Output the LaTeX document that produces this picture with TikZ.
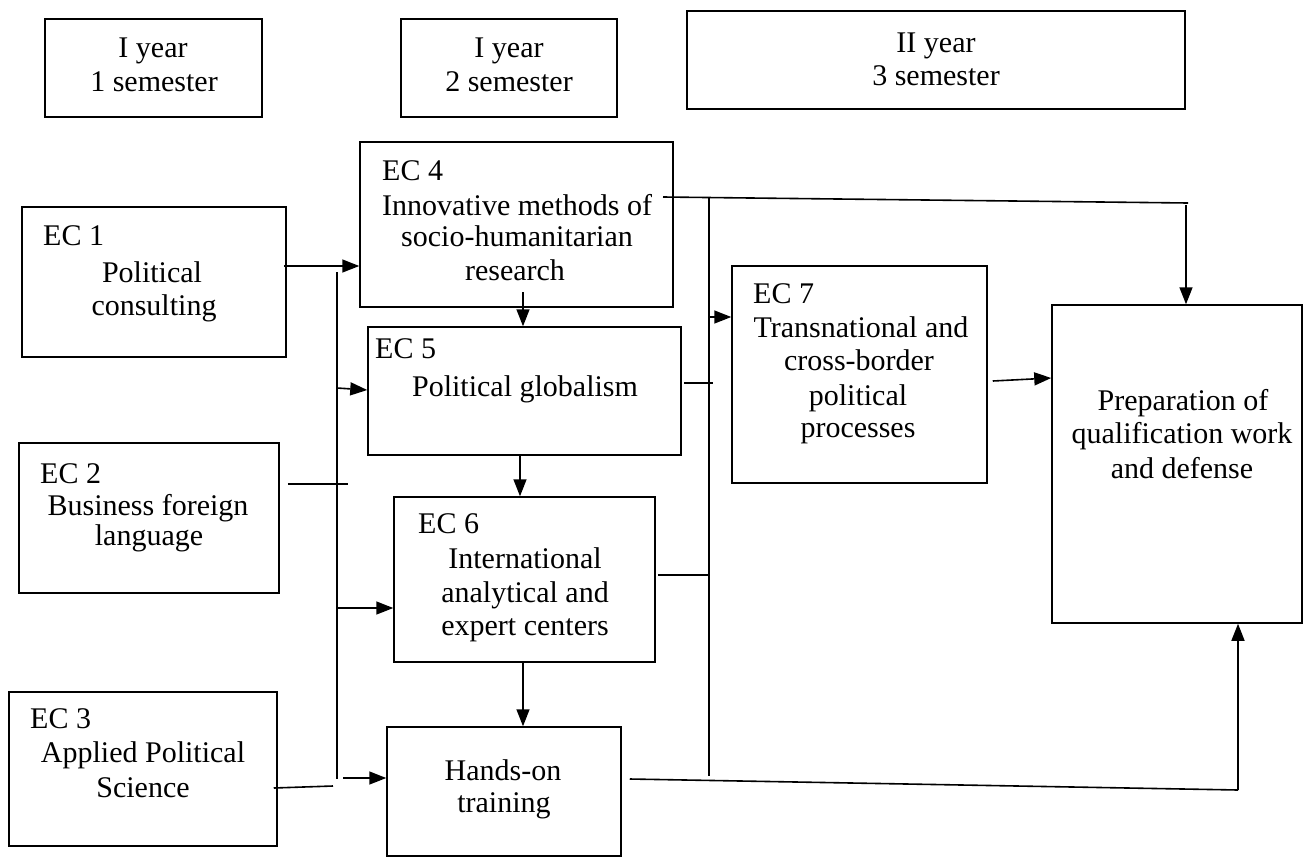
\documentclass[tikz,border=0pt]{standalone}
\usepackage{fontspec}
\setmainfont{Liberation Serif}
\usetikzlibrary{arrows.meta}
\begin{document}
\begin{tikzpicture}[x=1pt,y=-1pt,
  box/.style={draw, line width=1.5pt, inner sep=0pt},
  ln/.style={line width=1.6pt},
  arr/.style={ln, -{Triangle[length=17pt,width=13pt]}},
  txt/.style={anchor=base, inner sep=0pt, font=\fontsize{30}{33}\selectfont},
  lab/.style={txt, anchor=base west}]
\useasboundingbox (0,0) rectangle (1304,857);

% header boxes
\node[box, minimum width=217pt, minimum height=98pt] (hb1) at (153.5,68) {};
\node[box, minimum width=216pt, minimum height=98pt] (hb2) at (509,68) {};
\node[box, minimum width=498pt, minimum height=98pt] (hb3) at (936,60) {};
\node[txt] (hb1a) at (153,57) {I year};
\node[txt] (hb1b) at (154,91) {1 semester};
\node[txt] (hb2a) at (509,57) {I year};
\node[txt] (hb2b) at (509,91) {2 semester};
\node[txt] (hb3a) at (936,52) {II year};
\node[txt] (hb3b) at (936,85) {3 semester};

% course boxes
\node[box, minimum width=264pt, minimum height=150pt] (ec1) at (154,282) {};
\node[box, minimum width=260pt, minimum height=150pt] (ec2) at (149,518) {};
\node[box, minimum width=268pt, minimum height=154pt] (ec3) at (143,769) {};
\node[box, minimum width=313pt, minimum height=165pt] (ec4) at (516.5,224.5) {};
\node[box, minimum width=313pt, minimum height=128pt] (ec5) at (524.5,391) {};
\node[box, minimum width=261pt, minimum height=165pt] (ec6) at (524.5,579.5) {};
\node[box, minimum width=234pt, minimum height=129pt] (hands) at (504,791.5) {};
\node[box, minimum width=255pt, minimum height=217pt] (ec7) at (859.5,374.5) {};
\node[box, minimum width=250pt, minimum height=318pt] (prep) at (1177,464) {};

% texts
\node[lab] (l1) at (43,245) {EC 1};
\node[txt] (t1a) at (152,282) {Political};
\node[txt] (t1b) at (154,315) {consulting};
\node[lab] (l2) at (40,483) {EC 2};
\node[txt] (t2a) at (148,515) {Business foreign};
\node[txt] (t2b) at (149,545) {language};
\node[lab] (l3) at (30,728) {EC 3};
\node[txt] (t3a) at (143,762) {Applied Political};
\node[txt] (t3b) at (143,797) {Science};
\node[lab] (l4) at (382,180) {EC 4};
\node[txt] (t4a) at (517,215) {Innovative methods of};
\node[txt] (t4b) at (517,246) {socio-humanitarian};
\node[txt] (t4c) at (515,280) {research};
\node[lab] (l5) at (375,358) {EC 5};
\node[txt] (t5a) at (525,396) {Political globalism};
\node[lab] (l6) at (418,533) {EC 6};
\node[txt] (t6a) at (525,568) {International};
\node[txt] (t6b) at (525,602) {analytical and};
\node[txt] (t6c) at (525,635) {expert centers};
\node[txt] (tha) at (503,780) {Hands-on};
\node[txt] (thb) at (504,812) {training};
\node[lab] (l7) at (753,303) {EC 7};
\node[txt] (t7a) at (861,337) {Transnational and};
\node[txt] (t7b) at (859,370) {cross-border};
\node[txt] (t7c) at (858,405) {political};
\node[txt] (t7d) at (858,437) {processes};
\node[txt] (tpa) at (1183,410) {Preparation of};
\node[txt] (tpb) at (1182,443) {qualification work};
\node[txt] (tpc) at (1182,478) {and defense};

% left bus
\coordinate (b1t) at (337,272);
\coordinate (b1b) at (337,779);
\draw[ln] (b1t) -- (b1b);
\draw[arr] ([xshift=-3pt]ec1.east |- 0,266) -- (ec4.west |- 0,266);
\coordinate (b1e5) at (337,388);
\draw[arr] (b1e5) -- (ec5.west |- 0,390);
\coordinate (e2end) at (348,484);
\draw[ln] ([xshift=8pt]ec2.east |- 0,484) -- (e2end);
\coordinate (b1e6) at (337,608);
\draw[arr] (b1e6) -- (ec6.west |- b1e6);
\coordinate (e3end) at (333,786);
\draw[ln] ([xshift=-4pt]ec3.east |- 0,788) -- (e3end);
\coordinate (hstart) at (343,778);
\draw[arr] (hstart) -- (hands.west |- hstart);

% vertical chain
\coordinate (c45) at (523,292);
\draw[arr] (c45) -- (ec5.north -| c45);
\coordinate (c56) at (520,0);
\draw[arr] (ec5.south -| c56) -- (ec6.north -| c56);
\coordinate (c6h) at (523,0);
\draw[arr] (ec6.south -| c6h) -- (hands.north -| c6h);

% right bus and top line
\coordinate (t0) at (663,197);
\coordinate (t1) at (1188,203);
\draw[ln] (t0) -- (t1);
\coordinate (tp) at (1186,205);
\draw[arr] (tp) -- (prep.north -| tp);
\coordinate (b2t) at (709,197);
\coordinate (b2b) at (709,776);
\draw[ln] (b2t) -- (b2b);
\coordinate (e5end) at (713,383);
\draw[ln] ([xshift=2pt]ec5.east |- e5end) -- (e5end);
\coordinate (b2e7) at (709,317);
\draw[arr] (b2e7) -- (ec7.west |- b2e7);
\draw[ln] ([xshift=2pt]ec6.east |- 0,575) -- (b2t |- 0,575);
\draw[arr] ([xshift=5pt]ec7.east |- 0,381) -- (prep.west |- 0,378);
\coordinate (hc) at (1238,790);
\draw[ln] ([xshift=8pt]hands.east |- 0,779) -- (hc);
\draw[arr] (hc) -- (prep.south -| hc);
\end{tikzpicture}
\end{document}
